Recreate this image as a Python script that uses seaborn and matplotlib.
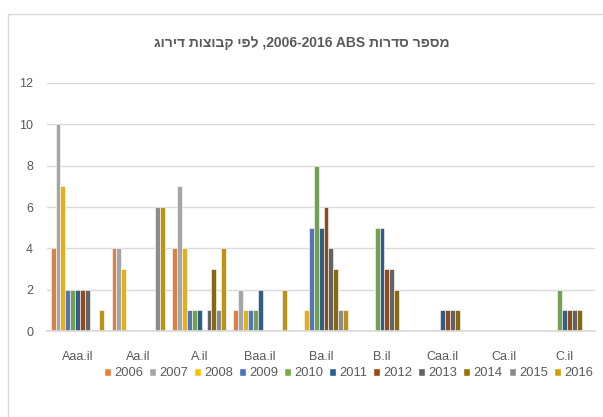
import pandas as pd
import seaborn as sns
import matplotlib.pyplot as plt
from matplotlib.patches import Rectangle, Patch

# ---------------------------------------------------------------
# Data
# ---------------------------------------------------------------
ratings = ["Aaa.il", "Aa.il", "A.il", "Baa.il", "Ba.il", "B.il", "Caa.il", "Ca.il", "C.il"]
years = ["2006", "2007", "2008", "2009", "2010", "2011",
         "2012", "2013", "2014", "2015", "2016"]

y2006 = [4, 4, 4, 1, 0, 0, 0, 0, 0]
y2007 = [10, 4, 7, 2, 0, 0, 0, 0, 0]
y2008 = [7, 3, 4, 1, 1, 0, 0, 0, 0]
y2009 = [2, 0, 1, 1, 5, 0, 0, 0, 0]
y2010 = [2, 0, 1, 1, 8, 5, 0, 0, 2]
y2011 = [2, 0, 1, 2, 5, 5, 1, 0, 1]
y2012 = [2, 0, 0, 0, 6, 3, 1, 0, 1]
y2013 = [2, 0, 1, 0, 4, 3, 1, 0, 1]
y2014 = [0, 0, 3, 0, 3, 2, 1, 0, 1]
y2015 = [0, 6, 1, 0, 1, 0, 0, 0, 0]
y2016 = [1, 6, 4, 2, 1, 0, 0, 0, 0]

colors = ["#ED7D31", "#A5A5A5", "#FFC000", "#4472C4", "#70AD47", "#255E91",
          "#9E480E", "#636363", "#997300", "#8C8C8C", "#D4A000"]

# title in visual (left-to-right) order, since matplotlib has no bidi
title = "גוריד תוצובק יפל ,2006-2016 ABS תורדס רפסמ"

series = [y2006, y2007, y2008, y2009, y2010, y2011,
          y2012, y2013, y2014, y2015, y2016]
rows = []
for year, vals in zip(years, series):
    for rating, v in zip(ratings, vals):
        rows.append({"rating": rating, "year": year, "count": v})
df = pd.DataFrame(rows)

# ---------------------------------------------------------------
# Plot
# ---------------------------------------------------------------
sns.set_theme(style="white")
plt.rcParams["font.family"] = ["Liberation Sans", "DejaVu Sans"]

fig = plt.figure(figsize=(6.03, 4.17), dpi=100)
ax = fig.add_axes([0.078, 0.206, 0.909, 0.595])

sns.barplot(
    data=df, x="rating", y="count", hue="year",
    order=ratings, hue_order=years, palette=colors,
    width=0.88, edgecolor="white", linewidth=0.4,
    legend=False, ax=ax,
)

ax.set_ylim(0, 12)
ax.set_yticks(range(0, 13, 2))
ax.set_xlim(-0.5, len(ratings) - 0.5)
ax.yaxis.grid(True, color="#D9D9D9", linewidth=1)
ax.set_axisbelow(True)
for side in ["top", "right", "left"]:
    ax.spines[side].set_visible(False)
ax.spines["bottom"].set_color("#D9D9D9")
ax.set_xlabel("")
ax.set_ylabel("")
ax.tick_params(axis="both", length=0, labelsize=9, colors="#595959")
ax.tick_params(axis="x", pad=14)
ax.tick_params(axis="y", pad=10)

fig.text(0.5, 0.897, title, ha="center", va="center", fontsize=10,
         fontweight="bold", color="#595959")

handles = [Patch(facecolor=c, label=y) for c, y in zip(colors, years)]
fig.legend(handles=handles, loc="center left", bbox_to_anchor=(0.172, 0.105),
           ncol=11, frameon=False, fontsize=9.3, handlelength=0.55,
           handleheight=0.55, handletextpad=0.25, columnspacing=0.45,
           borderpad=0, borderaxespad=0, labelcolor="#595959")

# chart-area border
fig.patches.append(Rectangle((8 / 603, -0.1), 1.2, 0.1 + (417 - 14) / 417,
                             transform=fig.transFigure, fill=False,
                             edgecolor="#D9D9D9", linewidth=1))

fig.savefig("out.png", dpi=100)
plt.close(fig)
